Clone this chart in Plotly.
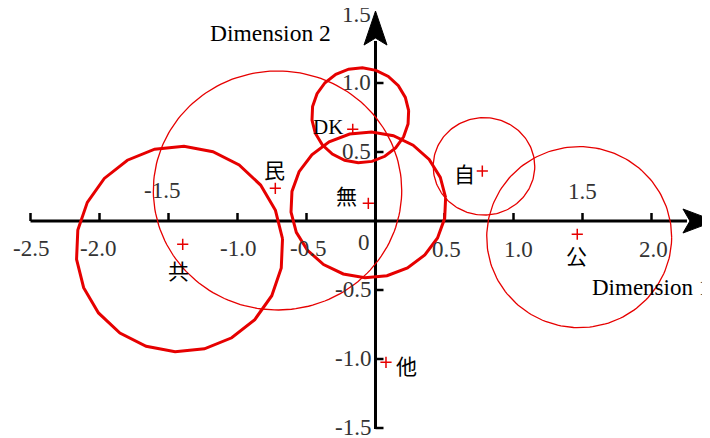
import numpy as np
import plotly.graph_objects as go

# ---------------- data ----------------
labels = ["共", "民", "DK", "無", "自", "公", "他"]
dim1 = [-1.397, -0.726, -0.165, -0.052, 0.774, 1.462, 0.076]
dim2 = [-0.169, 0.237, 0.664, 0.128, 0.362, -0.096, -1.024]

# confidence circles: centre, radii
circle_names = ["共", "民", "DK", "無", "自", "公"]
circle_cx = [-1.420, -0.710, -0.110, -0.052, 0.786, 1.476]
circle_cy = [-0.203, 0.221, 0.766, 0.117, 0.396, -0.117]
circle_rx = [0.750, 0.900, 0.352, 0.563, 0.368, 0.670]
circle_ry = [0.745, 0.866, 0.344, 0.529, 0.353, 0.656]

x_ticks = [-2.5, -2.0, -1.5, -1.0, -0.5, 0.5, 1.0, 1.5, 2.0]
x_tick_labels = ["-2.5", "-2.0", "-1.5", "-1.0", "-0.5", "0", "0.5", "1.0", "1.5", "2.0"]
x_tick_label_vals = [-2.5, -2.0, -1.5, -1.0, -0.5, 0.0, 0.5, 1.0, 1.5, 2.0]
y_ticks = [1.0, 0.5, -0.5, -1.0, -1.5]
y_tick_labels = ["1.5", "1.0", "0.5", "-0.5", "-1.0", "-1.5"]
y_tick_label_vals = [1.5, 1.0, 0.5, -0.5, -1.0, -1.5]

# ---------------- style ----------------
RED = "#e60000"
PAGE_MARGIN = 8         # default body margin of the html page
SCALE = 138.0           # px per unit
X0, Y0 = 375.5 - PAGE_MARGIN, 221.0 - PAGE_MARGIN   # origin inside the figure
W, H = 710, 438
thick = {"共": True, "民": False, "DK": True, "無": True, "自": False, "公": False}
label_shift = {"共": (-4, -26), "民": (-1, 19), "DK": (-25, 2), "無": (-22, 8),
               "自": (-18, -2), "公": (-1, -21), "他": (21, -3)}
x_lab_shift = {"-2.5": (0, -27), "-2.0": (-2, -27), "-1.5": (-7, 31), "-1.0": (0, -27),
               "-0.5": (1, -27), "0": (-12, -21), "0.5": (2, -28), "1.0": (5, -28),
               "1.5": (0, 30), "2.0": (2, -28)}
SERIF = "Liberation Serif"
CJK = "Noto Sans CJK JP"
TICK_SIZE = 23

xr = [-X0 / SCALE, (W - X0) / SCALE]
yr = [-(H - Y0) / SCALE, Y0 / SCALE]
px = 1.0 / SCALE

fig = go.Figure()

# ---------------- axes ----------------
x_end = 2.228
y_end = 1.275
shapes = []
shapes.append(dict(type="line", x0=-2.5, y0=0, x1=x_end + 4 * px, y1=0,
                   line=dict(color="black", width=3), layer="below"))
shapes.append(dict(type="line", x0=0, y0=-1.5 - px, x1=0, y1=y_end + 4 * px,
                   line=dict(color="black", width=3), layer="below"))
for t in x_ticks:
    shapes.append(dict(type="line", x0=t, y0=0, x1=t, y1=8 * px,
                       line=dict(color="black", width=2.5), layer="below"))
for t in y_ticks:
    shapes.append(dict(type="line", x0=0, y0=t, x1=8 * px, y1=t,
                       line=dict(color="black", width=2.5), layer="below"))
# arrow heads (concave)
xa_tip = x_end + 32 * px
shapes.append(dict(type="path",
                   path=f"M {xa_tip},0 L {x_end},{12*px} L {x_end+7*px},0 L {x_end},{-12*px} Z",
                   fillcolor="black", line=dict(color="black", width=1), layer="below"))
ya_tip = y_end + 34 * px
shapes.append(dict(type="path",
                   path=f"M 0,{ya_tip} L {-11.5*px},{y_end} L 0,{y_end+7*px} L {11.5*px},{y_end} Z",
                   fillcolor="black", line=dict(color="black", width=1), layer="below"))

# ---------------- circles ----------------
for name, cx, cy, rx, ry in zip(circle_names, circle_cx, circle_cy, circle_rx, circle_ry):
    n = 22 if thick[name] else 181
    th = np.linspace(0, 2 * np.pi, n + 1) + (0.1 if thick[name] else 0)
    fig.add_trace(go.Scatter(x=cx + rx * np.cos(th), y=cy + ry * np.sin(th), mode="lines",
                             line=dict(color=RED, width=3 if thick[name] else 1.3),
                             hoverinfo="skip", showlegend=False))

# ---------------- points ----------------
fig.add_trace(go.Scatter(x=dim1, y=dim2, mode="markers", text=labels,
                         marker=dict(symbol="cross-thin", size=8, line=dict(color=RED, width=1.5)),
                         showlegend=False))

ann = []
for lab, x, y in zip(labels, dim1, dim2):
    dx, dy = label_shift[lab]
    ann.append(dict(x=x, y=y, text=lab, showarrow=False, xshift=dx, yshift=dy,
                    font=dict(family=SERIF if lab == "DK" else CJK, size=21,
                              color="black")))
for lab, v in zip(x_tick_labels, x_tick_label_vals):
    dx, dy = x_lab_shift[lab]
    ann.append(dict(x=v, y=0, text=lab, showarrow=False, xshift=dx, yshift=dy,
                    font=dict(family=SERIF, size=TICK_SIZE, color="#333333")))
for lab, v in zip(y_tick_labels, y_tick_label_vals):
    ann.append(dict(x=0, y=v, text=lab, showarrow=False, xanchor="right", xshift=-3,
                    yshift=1 if v != 1.5 else 0,
                    font=dict(family=SERIF, size=TICK_SIZE, color="#333333")))
ann.append(dict(x=(270.5 - PAGE_MARGIN - X0) * px, y=(Y0 - 33 + PAGE_MARGIN) * px,
                text="Dimension 2", showarrow=False,
                font=dict(family=SERIF, size=23.5, color="black")))
ann.append(dict(x=(590 - PAGE_MARGIN - X0) * px, y=(Y0 - 287 + PAGE_MARGIN) * px,
                text="Dimension 1", showarrow=False,
                xanchor="left", font=dict(family=SERIF, size=23, color="black")))

fig.update_layout(
    width=W, height=H, margin=dict(l=0, r=0, t=0, b=0),
    paper_bgcolor="white", plot_bgcolor="white",
    xaxis=dict(range=xr, visible=False, fixedrange=True),
    yaxis=dict(range=yr, visible=False, fixedrange=True),
    shapes=shapes, annotations=ann, showlegend=False,
)
fig.write_html("out.html")
